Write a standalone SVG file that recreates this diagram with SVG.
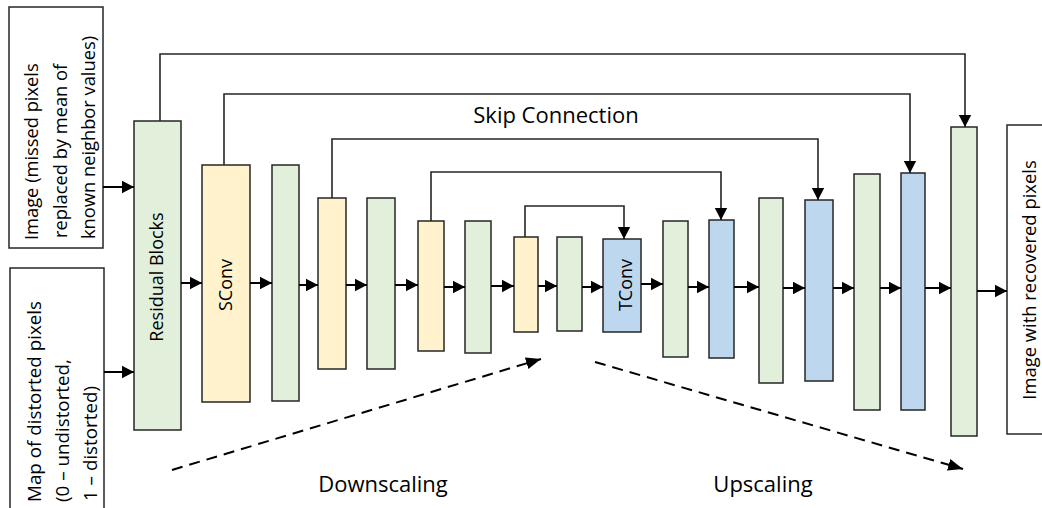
<svg xmlns="http://www.w3.org/2000/svg" width="1042" height="508" viewBox="0 0 1042 508">
  <style>
    .blk { stroke: #262626; stroke-width: 1.5; }
    .g { fill: #E2EFDA; }
    .y { fill: #FFF2CC; }
    .b { fill: #BDD7EE; }
    .io { fill: #FFFFFF; stroke: #262626; stroke-width: 1.5; }
    .lbl { font-family: "Open Sans", "Liberation Sans", sans-serif; fill: #000; }
    .flow { stroke: #000; stroke-width: 2; fill: none; marker-end: url(#head); }
    .skipa { stroke: #262626; stroke-width: 1.6; fill: none; marker-end: url(#head); }
    .dash { stroke: #000; stroke-width: 2; fill: none; stroke-dasharray: 11 7; marker-end: url(#dhead); }
  </style>
  <defs>
    <marker id="head" markerUnits="userSpaceOnUse" markerWidth="14" markerHeight="14" viewBox="0 0 14 14" refX="12" refY="7" orient="auto">
      <path d="M0,0.8 L12,7 L0,13.2 Z" fill="#000"/>
    </marker>
    <marker id="dhead" markerUnits="userSpaceOnUse" markerWidth="16" markerHeight="16" viewBox="0 0 16 16" refX="15" refY="8" orient="auto">
      <path d="M0,2 L15,8 L0,14 Z" fill="#000"/>
    </marker>
  </defs>
  <rect width="1042" height="508" fill="#FFFFFF"/>

  <!-- inputs -->
  <g id="input-image">
    <rect class="io" x="9" y="7" width="94" height="241"/>
    <text class="lbl" font-size="18.3" transform="translate(38,240) rotate(-90)">Image (missed pixels</text>
    <text class="lbl" font-size="18.3" transform="translate(66.5,238) rotate(-90)">replaced by mean of</text>
    <text class="lbl" font-size="18.3" transform="translate(95,239) rotate(-90)">known neighbor values)</text>
  </g>
  <g id="input-map">
    <rect class="io" x="10" y="268" width="94" height="260"/>
    <text class="lbl" font-size="18.8" transform="translate(41,502) rotate(-90)">Map of distorted pixels</text>
    <text class="lbl" font-size="18.8" transform="translate(69,502) rotate(-90)">(0 – undistorted,</text>
    <text class="lbl" font-size="18.8" transform="translate(97,501) rotate(-90)">1 – distorted)</text>
  </g>

  <!-- encoder -->
  <g id="residual-blocks">
    <rect class="blk g" x="134" y="121" width="47" height="309"/>
    <text class="lbl" font-size="18" text-anchor="middle" transform="translate(163,277) rotate(-90)">Residual Blocks</text>
  </g>
  <g id="sconv">
    <rect class="blk y" x="202" y="165" width="48" height="237"/>
    <text class="lbl" font-size="18" text-anchor="middle" transform="translate(232,285) rotate(-90)">SConv</text>
  </g>
  <g id="enc-g1"><rect class="blk g" x="272" y="165" width="27" height="236"/></g>
  <g id="enc-y2"><rect class="blk y" x="318" y="198" width="28" height="171"/></g>
  <g id="enc-g2"><rect class="blk g" x="367" y="198" width="28" height="171"/></g>
  <g id="enc-y3"><rect class="blk y" x="418" y="221" width="26" height="130"/></g>
  <g id="enc-g3"><rect class="blk g" x="465" y="221" width="26" height="132"/></g>
  <g id="enc-y4"><rect class="blk y" x="514" y="237" width="24" height="95"/></g>
  <g id="enc-g4"><rect class="blk g" x="557" y="237" width="25" height="94"/></g>

  <!-- decoder -->
  <g id="tconv">
    <rect class="blk b" x="603" y="239" width="38" height="93"/>
    <text class="lbl" font-size="18" text-anchor="middle" transform="translate(632,285) rotate(-90)">TConv</text>
  </g>
  <g id="dec-g1"><rect class="blk g" x="663" y="221" width="25" height="136"/></g>
  <g id="dec-b2"><rect class="blk b" x="709" y="220" width="25" height="138"/></g>
  <g id="dec-g2"><rect class="blk g" x="759" y="198" width="24" height="185"/></g>
  <g id="dec-b3"><rect class="blk b" x="805" y="200" width="28" height="181"/></g>
  <g id="dec-g3"><rect class="blk g" x="854" y="174" width="26" height="236"/></g>
  <g id="dec-b4"><rect class="blk b" x="901" y="173" width="24" height="237"/></g>
  <g id="dec-g4"><rect class="blk g" x="951" y="127" width="26" height="309"/></g>

  <!-- output -->
  <g id="output-image">
    <rect class="io" x="1007" y="125" width="45" height="309"/>
    <text class="lbl" font-size="18.4" text-anchor="middle" transform="translate(1036,280) rotate(-90)">Image with recovered pixels</text>
  </g>

  <!-- connectors -->
  <g id="connectors">
    <!-- main data flow -->
    <line class="flow" x1="103" y1="187" x2="134" y2="187"/>
    <line class="flow" x1="104" y1="372" x2="134" y2="372"/>
    <line class="flow" x1="181" y1="283" x2="202" y2="283"/>
    <line class="flow" x1="250" y1="283" x2="272" y2="283"/>
    <line class="flow" x1="299" y1="285" x2="318" y2="285"/>
    <line class="flow" x1="346" y1="285" x2="367" y2="285"/>
    <line class="flow" x1="395" y1="285" x2="418" y2="285"/>
    <line class="flow" x1="444" y1="287" x2="465" y2="287"/>
    <line class="flow" x1="491" y1="286" x2="514" y2="286"/>
    <line class="flow" x1="538" y1="286" x2="557" y2="286"/>
    <line class="flow" x1="582" y1="287" x2="603" y2="287"/>
    <line class="flow" x1="641" y1="284" x2="663" y2="284"/>
    <line class="flow" x1="688" y1="287" x2="709" y2="287"/>
    <line class="flow" x1="734" y1="287" x2="759" y2="287"/>
    <line class="flow" x1="783" y1="288" x2="805" y2="288"/>
    <line class="flow" x1="833" y1="288" x2="854" y2="288"/>
    <line class="flow" x1="880" y1="288" x2="901" y2="288"/>
    <line class="flow" x1="925" y1="288" x2="951" y2="288"/>
    <line class="flow" x1="977" y1="291" x2="1007" y2="291"/>

    <!-- skip connections -->
    <path class="skipa" d="M160,121 V54 H965 V127"/>
    <path class="skipa" d="M224,165 V94 H910 V173"/>
    <path class="skipa" d="M332,198 V139 H818 V200"/>
    <path class="skipa" d="M431,221 V172 H721 V220"/>
    <path class="skipa" d="M525,237 V206 H624 V239"/>

    <!-- scaling directions -->
    <line class="dash" x1="172" y1="470" x2="541" y2="359"/>
    <line class="dash" x1="595" y1="362" x2="963" y2="469"/>
  </g>

  <!-- labels -->
  <text class="lbl" font-size="22" text-anchor="middle" x="556" y="123">Skip Connection</text>
  <text class="lbl" font-size="22" text-anchor="middle" x="383" y="492">Downscaling</text>
  <text class="lbl" font-size="22" text-anchor="middle" x="763" y="492">Upscaling</text>
</svg>
